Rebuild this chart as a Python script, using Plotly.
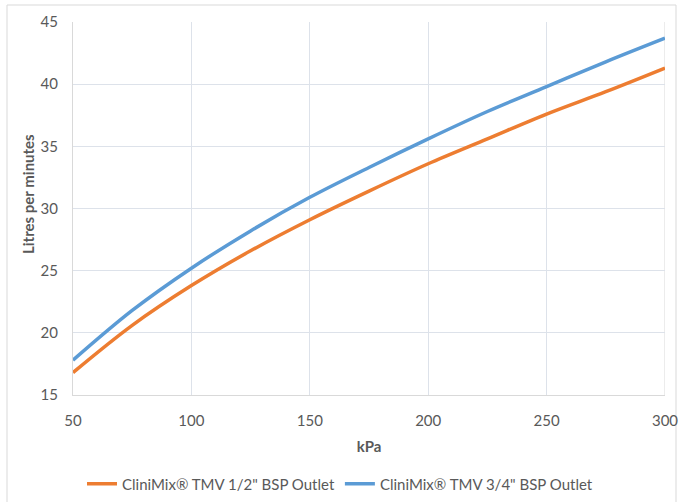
import plotly.graph_objects as go

kpa = [50, 75, 100, 125, 150, 175, 200, 225, 250, 275, 300]
half_inch = [16.8, 20.6, 23.8, 26.6, 29.1, 31.4, 33.6, 35.6, 37.6, 39.4, 41.3]
three_quarter = [17.8, 21.8, 25.2, 28.2, 30.9, 33.3, 35.6, 37.8, 39.8, 41.8, 43.7]

names = ['CliniMix® TMV 1/2" BSP Outlet', 'CliniMix® TMV 3/4" BSP Outlet']
colors = ['#ED7D31', '#5B9BD5']

FONT = 'Lato'
TXT = '#595959'
GRID = '#dde2ea'

fig = go.Figure()
for name, ys, c in zip(names, [half_inch, three_quarter], colors):
    fig.add_trace(go.Scatter(x=kpa, y=ys, mode='lines', name=name,
                             line=dict(color=c, width=3.5, shape='spline')))

L, R, T, B = 73, 15, 22, 107
W, H = 680, 502
pw, ph = W - L - R, H - T - B

def px(x):
    return (x - L) / pw

def py(y):
    return (H - B - y) / ph

fig.add_shape(type='rect', xref='paper', yref='paper',
              x0=px(7), x1=px(676), y0=py(506), y1=py(5),
              line=dict(color='#d9d9d9', width=1), layer='below')

fig.add_annotation(text='<b>Litres per minutes</b>', xref='paper', yref='paper',
                   x=px(28), y=py(194), textangle=-90, showarrow=False,
                   xanchor='center', yanchor='middle',
                   font=dict(family=FONT, size=15, color=TXT))

fig.update_layout(
    width=W, height=H,
    margin=dict(l=L, r=R, t=T, b=B, autoexpand=False),
    paper_bgcolor='white', plot_bgcolor='white',
    font=dict(family=FONT, size=15, color=TXT),
    showlegend=True,
    legend=dict(orientation='h', xref='container', yref='container',
                x=82 / W, xanchor='left',
                y=(H - 484) / H, yanchor='middle',
                font=dict(size=15, color=TXT), itemwidth=30,
                tracegroupgap=0),
    xaxis=dict(range=[50, 300], tickvals=[50, 100, 150, 200, 250, 300],
               showgrid=True, gridcolor=GRID, gridwidth=1,
               showline=True, linecolor='#d9d9d9', zeroline=False,
               automargin=False, ticklabelstandoff=12,
               ticks='', title=dict(text='<b>kPa</b>', standoff=13,
                                    font=dict(size=15, color=TXT))),
    yaxis=dict(range=[15, 45], tickvals=[15, 20, 25, 30, 35, 40, 45],
               showgrid=True, gridcolor=GRID, gridwidth=1,
               showline=True, linecolor='#d9d9d9', zeroline=False,
               automargin=False, ticklabelstandoff=11,
               ticks=''),
)
fig.add_shape(type='line', xref='x', yref='y', x0=300, x1=300, y0=15, y1=45,
              line=dict(color='#d9d9d9', width=1), layer='below')

fig.write_html('out.html', config={'displayModeBar': False},
               post_script="document.body.style.margin='0';")
